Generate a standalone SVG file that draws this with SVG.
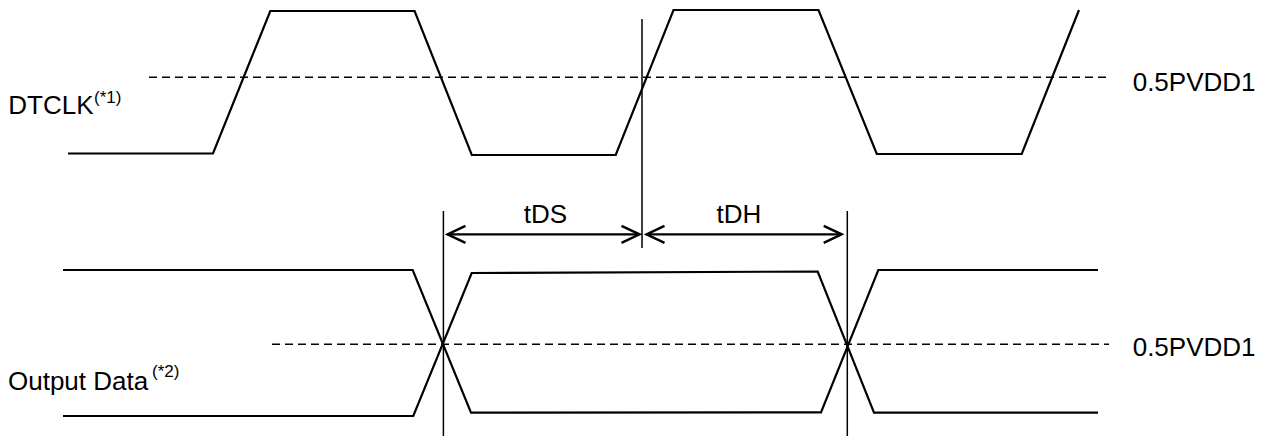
<svg xmlns="http://www.w3.org/2000/svg" width="1267" height="436" viewBox="0 0 1267 436">
  <style>
    .wave { fill: none; stroke: #000; stroke-width: 2.2; stroke-linejoin: miter; }
    .dash { fill: none; stroke: #000; stroke-width: 1.6; stroke-dasharray: 8 5; }
    .vline { fill: none; stroke: #000; stroke-width: 1.5; }
    .dim { fill: none; stroke: #000; stroke-width: 2.2; }
    .lbl { font-family: "Liberation Sans", Arial, sans-serif; font-size: 26px; fill: #000; }
    .sup { font-family: "Liberation Sans", Arial, sans-serif; font-size: 17px; fill: #000; }
  </style>
  <defs>
    <marker id="chev" viewBox="-21 -11 24 22" refX="0" refY="0" markerWidth="24" markerHeight="22" markerUnits="userSpaceOnUse" orient="auto-start-reverse">
      <path d="M -18 -8.5 L 0 0 L -18 8.5" fill="none" stroke="#000" stroke-width="2.4"/>
    </marker>
  </defs>
  <rect x="0" y="0" width="1267" height="436" fill="#fff"/>

  <g id="dtclk">
    <line class="dash" x1="149" y1="77.3" x2="1109" y2="77.3"/>
    <polyline class="wave" points="68,153.5 213,153.5 270.3,11 414.6,11 471.8,155 615.7,155 673.5,10 818.5,10 876.8,154 1021.7,154 1079,10"/>
    <text class="lbl" x="8.3" y="114.3">DTCLK</text>
    <text class="sup" x="94" y="103">(*1)</text>
    <text class="lbl" x="1132.7" y="90.7">0.5PVDD1</text>
  </g>

  <g id="output-data">
    <line class="dash" x1="272" y1="344.3" x2="1109" y2="344.3"/>
    <polyline class="wave" points="63,270 412.7,270 471,412.7 821,412.3 878.3,270 1098,270"/>
    <polyline class="wave" points="63,416 413.3,416 471.7,273 817.7,271.5 874,412.7 1098,412.7"/>
    <text class="lbl" x="8" y="390">Output Data</text>
    <text class="sup" x="152" y="377.4">(*2)</text>
    <text class="lbl" x="1132.7" y="356">0.5PVDD1</text>
  </g>

  <g id="connectors">
    <line class="vline" x1="443.4" y1="211" x2="443.4" y2="436"/>
    <line class="vline" x1="642" y1="19" x2="642" y2="248"/>
    <line class="vline" x1="847.3" y1="211" x2="847.3" y2="436"/>
    <line class="dim" x1="447.5" y1="234.3" x2="639.5" y2="234.3" marker-start="url(#chev)" marker-end="url(#chev)"/>
    <line class="dim" x1="646.5" y1="234.3" x2="841.7" y2="234.3" marker-start="url(#chev)" marker-end="url(#chev)"/>
  </g>

  <g id="dim-labels">
    <text class="lbl" x="545.5" y="223.3" text-anchor="middle">tDS</text>
    <text class="lbl" x="739" y="223.3" text-anchor="middle">tDH</text>
  </g>
</svg>
